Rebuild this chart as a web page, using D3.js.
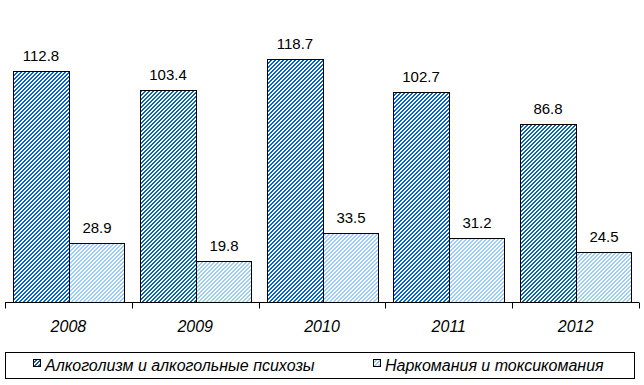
<!DOCTYPE html>
<html>
<head>
<meta charset="utf-8">
<script src="https://cdn.jsdelivr.net/npm/d3@7"></script>
<style>
  body { margin: 0; background: #fff; }
  text { font-family: "Liberation Sans", Arial, sans-serif; }
</style>
</head>
<body>
<div id="chart"></div>
<script>
// Данные
const years = ["2008", "2009", "2010", "2011", "2012"];
const alcohol = [112.8, 103.4, 118.7, 102.7, 86.8];
const drugs = [28.9, 19.8, 33.5, 31.2, 24.5];
const seriesNames = ["Алкоголизм и алкогольные психозы", "Наркомания и токсикомания"];

const width = 644, height = 385;
const baseY = 302;

const svg = d3.select("#chart").append("svg")
    .attr("width", width)
    .attr("height", height);

// Штриховки (пиксельные, 4x4)
const defs = svg.append("defs");
function hatch(id, color) {
    const p = defs.append("pattern")
        .attr("id", id)
        .attr("patternUnits", "userSpaceOnUse")
        .attr("width", 4).attr("height", 4);
    p.append("rect").attr("width", 4).attr("height", 4).attr("fill", "#fff");
    for (let r = 0; r < 4; r++) {
        for (let k = 0; k < 2; k++) {
            p.append("rect")
                .attr("x", (3 - r + k + 4) % 4).attr("y", r)
                .attr("width", 1).attr("height", 1)
                .attr("shape-rendering", "crispEdges")
                .attr("fill", color);
        }
    }
}
hatch("hDark", "#0066cc");
hatch("hLight", "#99ccff");

// Шкалы
const x = d3.scaleBand().domain(years).range([5, 639]);
const y = d3.scaleLinear().domain([0, 112.8]).range([baseY, 71]);
const barW = 56;

const groups = svg.selectAll(".g").data(years).enter().append("g")
    .attr("transform", d => `translate(${Math.round(x(d))},0)`);

groups.append("rect")
    .attr("x", 8.5).attr("width", barW)
    .attr("y", (d, i) => Math.round(y(alcohol[i])) + 0.5)
    .attr("height", (d, i) => baseY - Math.round(y(alcohol[i])))
    .attr("fill", "url(#hDark)").attr("stroke", "#000").attr("stroke-width", 1);

groups.append("rect")
    .attr("x", 8.5 + barW).attr("width", barW - 1)
    .attr("y", (d, i) => Math.round(y(drugs[i])) + 0.5)
    .attr("height", (d, i) => baseY - Math.round(y(drugs[i])))
    .attr("fill", "url(#hLight)").attr("stroke", "#000").attr("stroke-width", 1);

groups.append("text")
    .attr("x", 8 + barW / 2)
    .attr("y", (d, i) => y(alcohol[i]) - 10)
    .attr("text-anchor", "middle").attr("font-size", 15)
    .text((d, i) => alcohol[i].toFixed(1));

groups.append("text")
    .attr("x", 8 + barW * 1.5)
    .attr("y", (d, i) => y(drugs[i]) - 10)
    .attr("text-anchor", "middle").attr("font-size", 15)
    .text((d, i) => drugs[i].toFixed(1));

// Ось X
const axisG = svg.append("g").attr("transform", `translate(0,${baseY + 0.5})`);
axisG.append("line").attr("x1", 5).attr("x2", 639).attr("stroke", "#000");
const tickPos = years.map(d => x(d)).concat([x.range()[1]]);
axisG.selectAll(".tick").data(tickPos).enter().append("line")
    .attr("x1", d => Math.round(d) + 0.5).attr("x2", d => Math.round(d) + 0.5)
    .attr("y1", 0).attr("y2", 6).attr("stroke", "#000");
axisG.selectAll(".lbl").data(years).enter().append("text")
    .attr("x", d => x(d) + x.bandwidth() / 2)
    .attr("y", 29)
    .attr("text-anchor", "middle").attr("font-size", 16).attr("font-style", "italic")
    .text(d => d);

// Легенда
const leg = svg.append("g");
leg.append("rect").attr("x", 5.5).attr("y", 352.5).attr("width", 629).attr("height", 26)
    .attr("fill", "#fff").attr("stroke", "#000");
const legX = [33, 373];
const legFill = ["url(#hDark)", "url(#hLight)"];
seriesNames.forEach((name, i) => {
    leg.append("rect").attr("x", legX[i] + 0.5).attr("y", 359.5).attr("width", 7).attr("height", 7)
        .attr("fill", legFill[i]).attr("stroke", "#000");
    leg.append("text").attr("x", legX[i] + 12).attr("y", 371)
        .attr("font-size", 16).attr("font-style", "italic")
        .text(name);
});
</script>
</body>
</html>
